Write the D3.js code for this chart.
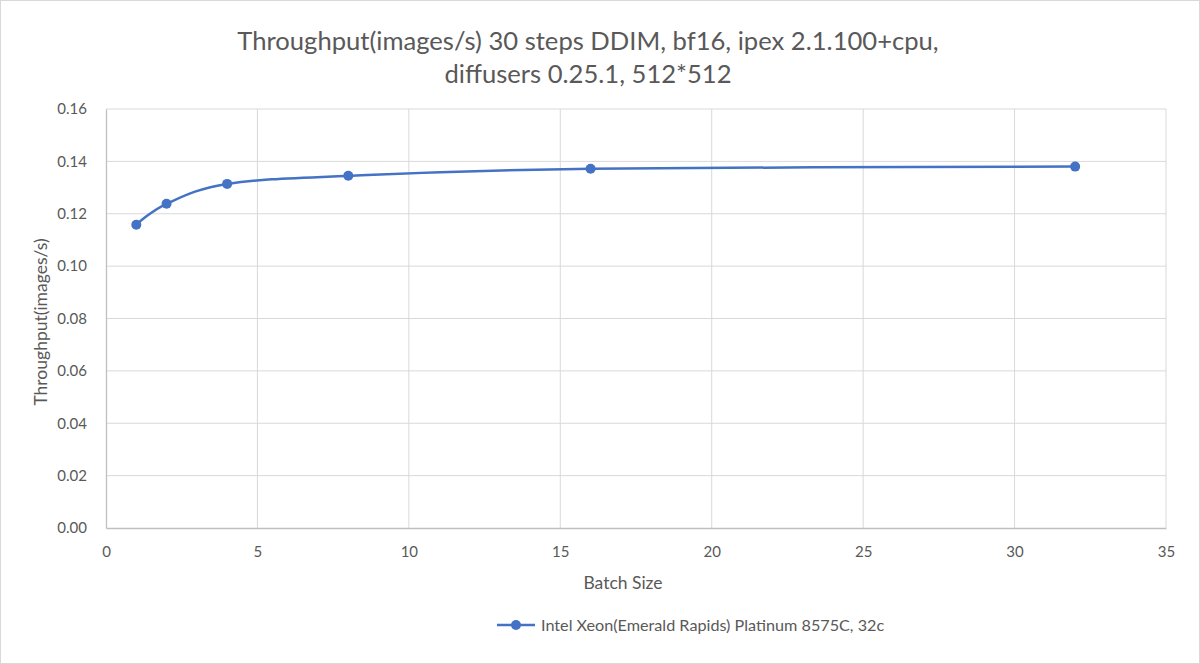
<!DOCTYPE html>
<html><head><meta charset="utf-8">
<script src="https://cdn.jsdelivr.net/npm/d3@7"></script>
<style>body{margin:0;background:#fff}svg{display:block}text{font-family:Lato,"Open Sans",sans-serif;fill:#595959}</style>
</head><body><svg id="c" width="1200" height="664"></svg>
<script>
const titleLines = ["Throughput(images/s) 30 steps DDIM, bf16, ipex 2.1.100+cpu,", "diffusers 0.25.1, 512*512"];
const batchSizes = [1, 2, 4, 8, 16, 32];
const throughput = [0.1158, 0.1238, 0.1314, 0.1345, 0.1372, 0.1380];
const xTicks = [0, 5, 10, 15, 20, 25, 30, 35];
const yTicks = [0, 0.02, 0.04, 0.06, 0.08, 0.10, 0.12, 0.14, 0.16];
const seriesName = "Intel Xeon(Emerald Rapids) Platinum 8575C, 32c";
const xLabel = "Batch Size", yLabel = "Throughput(images/s)";
const color = "#4472C4";

const svg = d3.select("#c");
svg.append("rect").attr("x",0.5).attr("y",0.5).attr("width",1199).attr("height",663)
  .attr("fill","#fff").attr("stroke","#d9d9d9").attr("stroke-width",1);

const L=106, R=1166, T=109, B=528;
const x = d3.scaleLinear().domain([0,35]).range([L,R]);
const y = d3.scaleLinear().domain([0,0.16]).range([B,T]);

svg.append("g").selectAll("line").data(yTicks.filter(d=>d>0)).join("line")
  .attr("x1",L).attr("x2",R).attr("y1",d=>y(d)).attr("y2",d=>y(d))
  .attr("stroke","#d9d9d9").attr("stroke-width",1);
svg.append("g").selectAll("line").data(xTicks.filter(d=>d>0)).join("line")
  .attr("y1",T).attr("y2",B).attr("x1",d=>x(d)).attr("x2",d=>x(d))
  .attr("stroke","#d9d9d9").attr("stroke-width",1);

const xa = svg.append("g").attr("transform",`translate(0,${B})`)
  .call(d3.axisBottom(x).tickValues(xTicks).tickSize(0).tickPadding(18).tickFormat(d3.format("d")));
const ya = svg.append("g").attr("transform",`translate(${L},0)`)
  .call(d3.axisLeft(y).tickValues(yTicks).tickSize(0).tickPadding(19).tickFormat(d3.format(".2f")));
[xa,ya].forEach(a=>{a.select(".domain").attr("stroke","#bfbfbf").attr("stroke-width",1.3);
  a.selectAll("text").attr("font-size",15).attr("fill","#595959").attr("font-family","Lato, 'Open Sans', sans-serif");});

const line = d3.line().x(d=>x(d[0])).y(d=>y(d[1])).curve(d3.curveCardinal.tension(0));
const pts = batchSizes.map((b,i)=>[b,throughput[i]]);
svg.append("path").datum(pts).attr("d",line).attr("fill","none").attr("stroke",color).attr("stroke-width",2.5);
svg.append("g").selectAll("circle").data(pts).join("circle")
  .attr("cx",d=>x(d[0])).attr("cy",d=>y(d[1])).attr("r",5).attr("fill",color);

svg.selectAll("text.title").data(titleLines).join("text").attr("class","title")
  .attr("x",588).attr("y",(d,i)=>50+i*33).attr("text-anchor","middle")
  .attr("font-size",25.6).text(d=>d);
svg.append("text").attr("x",623).attr("y",589).attr("text-anchor","middle").attr("font-size",17.5).text(xLabel);
svg.append("text").attr("transform","translate(47,322) rotate(-90)").attr("text-anchor","middle").attr("font-size",17.5).text(yLabel);

svg.append("line").attr("x1",497).attr("x2",535).attr("y1",625).attr("y2",625).attr("stroke",color).attr("stroke-width",2.5);
svg.append("circle").attr("cx",516).attr("cy",625).attr("r",5).attr("fill",color);
svg.append("text").attr("x",541).attr("y",631).attr("font-size",16.2).text(seriesName);
</script></body></html>
